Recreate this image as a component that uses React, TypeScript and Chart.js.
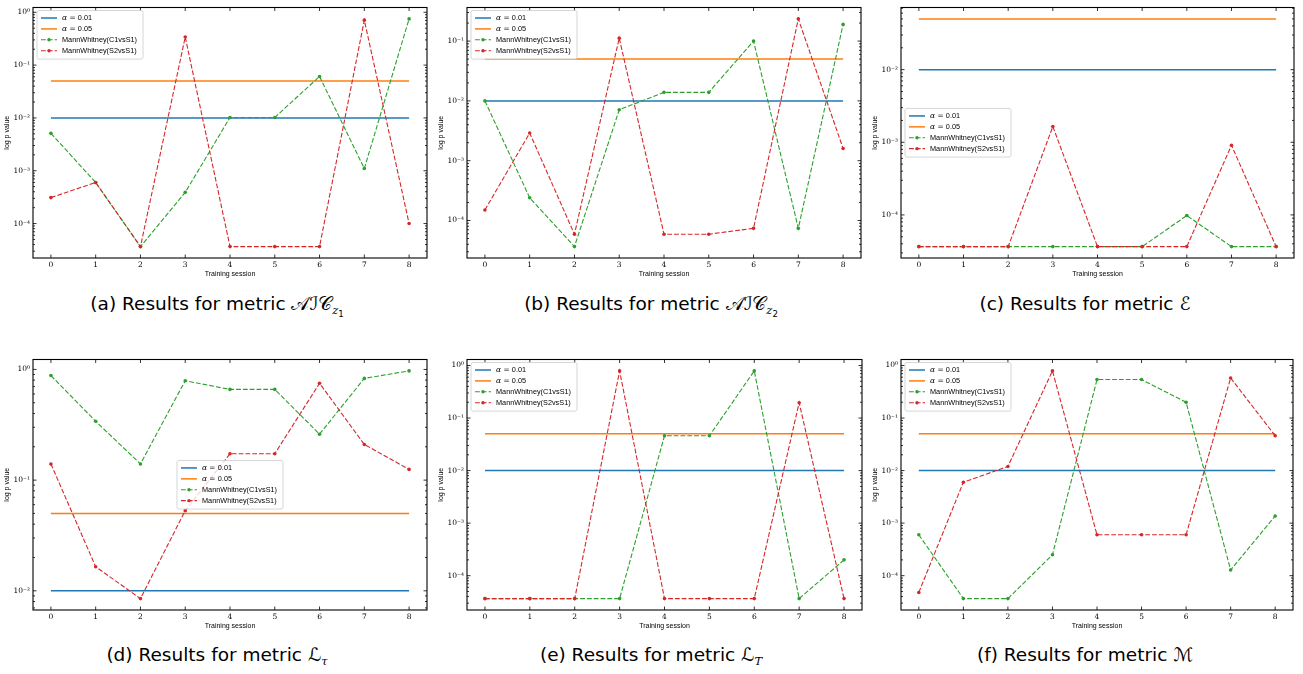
import React, { useEffect, useRef } from "react";
import { Chart, registerables } from "chart.js";

Chart.register(...registerables);

// ---------------- data ----------------
const sessions = [0, 1, 2, 3, 4, 5, 6, 7, 8];
const alphaStrict = 0.01;
const alphaLoose = 0.05;
const legendLabels = ["α = 0.01", "α = 0.05", "MannWhitney(C1vsS1)", "MannWhitney(S2vsS1)"];

const aicZ1C1 = [5.1e-3, 6.0e-4, 3.66e-5, 3.9e-4, 1.02e-2, 1.02e-2, 6.1e-2, 1.1e-3, 0.75];
const aicZ1S2 = [3.1e-4, 6.0e-4, 3.66e-5, 0.34, 3.66e-5, 3.66e-5, 3.66e-5, 0.71, 1.0e-4];
const aicZ2C1 = [1.0e-2, 2.4e-4, 3.66e-5, 7.1e-3, 1.39e-2, 1.39e-2, 0.1, 7.4e-5, 0.19];
const aicZ2S2 = [1.5e-4, 2.9e-3, 5.9e-5, 0.112, 5.9e-5, 5.9e-5, 7.4e-5, 0.235, 1.6e-3];
const energyC1 = [3.66e-5, 3.66e-5, 3.66e-5, 3.66e-5, 3.66e-5, 3.66e-5, 9.8e-5, 3.66e-5, 3.66e-5];
const energyS2 = [3.66e-5, 3.66e-5, 3.66e-5, 1.65e-3, 3.66e-5, 3.66e-5, 3.66e-5, 9.1e-4, 3.66e-5];
const lTauC1 = [0.88, 0.34, 0.14, 0.79, 0.66, 0.66, 0.26, 0.83, 0.97];
const lTauS2 = [0.14, 0.0165, 0.0085, 0.053, 0.173, 0.173, 0.75, 0.21, 0.125];
const lTC1 = [3.66e-5, 3.66e-5, 3.66e-5, 3.66e-5, 0.046, 0.046, 0.79, 3.66e-5, 2.0e-4];
const lTS2 = [3.66e-5, 3.66e-5, 3.66e-5, 0.79, 3.66e-5, 3.66e-5, 3.66e-5, 0.196, 3.66e-5];
const mC1 = [6.0e-4, 3.66e-5, 3.66e-5, 2.5e-4, 0.54, 0.54, 0.2, 1.28e-4, 1.37e-3];
const mS2 = [4.8e-5, 6.0e-3, 0.012, 0.79, 6.0e-4, 6.0e-4, 6.0e-4, 0.58, 0.046];

// ---------------- styling ----------------
const BLUE = "#1f77b4";
const ORANGE = "#ff7f0e";
const GREEN = "#2ca02c";
const RED = "#d62728";
const SANS = "'Liberation Sans', Arial, sans-serif";
const SERIF = "'DejaVu Serif', serif";
const DASH = [4.8, 2.0];

type LegendLoc = "upper left" | "center left" | "center";

type PanelDef = {
  c1: number[];
  s2: number[];
  loc: LegendLoc;
  left: number;
  top: number;
  width: number;
  padRight: number;
};

const SUP: Record<string, string> = {
  "-": "⁻", "0": "⁰", "1": "¹", "2": "²", "3": "³", "4": "⁴",
  "5": "⁵", "6": "⁶", "7": "⁷", "8": "⁸", "9": "⁹",
};
const sup = (n: number) => String(n).split("").map((c) => SUP[c] || c).join("");

function logRange(vals: number[]): [number, number] {
  const ls = vals.map((v) => Math.log10(v));
  const lo = Math.min(...ls);
  const hi = Math.max(...ls);
  const m = (hi - lo) * 0.05;
  return [Math.pow(10, lo - m), Math.pow(10, hi + m)];
}

function drawLegend(chart: any, loc: LegendLoc) {
  const { ctx, chartArea: a } = chart;
  const colors = [BLUE, ORANGE, GREEN, RED];
  const rowH = 10.9;
  const padX = 4;
  const handleLen = 16;
  const textX = padX + handleLen + 5;
  ctx.save();
  let maxW = 0;
  ctx.font = `italic 7.5px ${SERIF}`;
  const wAlpha = ctx.measureText("α").width;
  ctx.font = `7.3px ${SERIF}`;
  const wEq = ctx.measureText(" = ").width;
  legendLabels.forEach((lab, i) => {
    ctx.font = `7.3px ${SANS}`;
    const w = i < 2 ? wAlpha + wEq + ctx.measureText(lab.slice(4)).width : ctx.measureText(lab).width;
    maxW = Math.max(maxW, w);
  });
  const boxW = textX + maxW + 6;
  const boxH = rowH * 4 + 5;
  let bx = a.left + 4;
  let by = a.top + 3;
  if (loc === "center left") {
    by = (a.top + a.bottom) / 2 - boxH / 2;
  } else if (loc === "center") {
    bx = (a.left + a.right) / 2 - boxW / 2;
    by = (a.top + a.bottom) / 2 - boxH / 2;
  }
  ctx.beginPath();
  const r = 2;
  ctx.moveTo(bx + r, by);
  ctx.lineTo(bx + boxW - r, by);
  ctx.quadraticCurveTo(bx + boxW, by, bx + boxW, by + r);
  ctx.lineTo(bx + boxW, by + boxH - r);
  ctx.quadraticCurveTo(bx + boxW, by + boxH, bx + boxW - r, by + boxH);
  ctx.lineTo(bx + r, by + boxH);
  ctx.quadraticCurveTo(bx, by + boxH, bx, by + boxH - r);
  ctx.lineTo(bx, by + r);
  ctx.quadraticCurveTo(bx, by, bx + r, by);
  ctx.closePath();
  ctx.fillStyle = "rgba(255,255,255,0.8)";
  ctx.fill();
  ctx.strokeStyle = "#cccccc";
  ctx.lineWidth = 0.8;
  ctx.stroke();

  legendLabels.forEach((lab, i) => {
    const cy = by + 7.5 + i * rowH;
    const hx = bx + padX;
    ctx.strokeStyle = colors[i];
    if (i < 2) {
      ctx.setLineDash([]);
      ctx.lineWidth = 1.5;
    } else {
      ctx.setLineDash(DASH);
      ctx.lineWidth = 1.1;
    }
    ctx.beginPath();
    ctx.moveTo(hx, cy);
    ctx.lineTo(hx + handleLen, cy);
    ctx.stroke();
    ctx.setLineDash([]);
    if (i >= 2) {
      ctx.fillStyle = colors[i];
      ctx.beginPath();
      ctx.arc(hx + handleLen / 2, cy, 1.7, 0, Math.PI * 2);
      ctx.fill();
    }
    ctx.fillStyle = "#000";
    ctx.textBaseline = "middle";
    ctx.textAlign = "left";
    const tx = bx + textX;
    if (i < 2) {
      ctx.font = `italic 7.5px ${SERIF}`;
      ctx.fillText("α", tx, cy);
      ctx.font = `7.3px ${SERIF}`;
      ctx.fillText(" = ", tx + wAlpha, cy);
      ctx.font = `7.3px ${SANS}`;
      ctx.fillText(lab.slice(4), tx + wAlpha + wEq, cy);
    } else {
      ctx.font = `7.3px ${SANS}`;
      ctx.fillText(lab, tx, cy);
    }
  });
  ctx.restore();
}

const mplPlugin = {
  id: "mplStyle",
  afterDatasetsDraw(chart: any, _args: any, opts: any) {
    const { ctx, chartArea: a, scales } = chart;
    const xs = scales.x;
    const ys = scales.y;
    ctx.save();
    ctx.strokeStyle = "#000";
    ctx.lineWidth = 0.8;
    ctx.beginPath();
    sessions.forEach((s) => {
      const px = xs.getPixelForValue(s);
      ctx.moveTo(px, a.bottom);
      ctx.lineTo(px, a.bottom - 3.5);
      ctx.moveTo(px, a.top);
      ctx.lineTo(px, a.top + 3.5);
    });
    const lo = Math.floor(Math.log10(ys.min));
    const hi = Math.ceil(Math.log10(ys.max));
    for (let k = lo; k <= hi; k++) {
      for (let m = 1; m <= 9; m++) {
        const v = m * Math.pow(10, k);
        if (v < ys.min || v > ys.max) continue;
        const py = ys.getPixelForValue(v);
        const len = m === 1 ? 3.5 : 2;
        ctx.moveTo(a.left, py);
        ctx.lineTo(a.left + len, py);
        ctx.moveTo(a.right, py);
        ctx.lineTo(a.right - len, py);
      }
    }
    ctx.stroke();
    ctx.lineWidth = 1.1;
    ctx.strokeRect(a.left, a.top, a.right - a.left, a.bottom - a.top);
    ctx.restore();
    drawLegend(chart, opts.loc);
  },
};

function Panel({ def }: { def: PanelDef }) {
  const ref = useRef<HTMLCanvasElement | null>(null);
  useEffect(() => {
    if (!ref.current) return;
    const [ymin, ymax] = logRange([...def.c1, ...def.s2, alphaStrict, alphaLoose]);
    const span = sessions[sessions.length - 1] - sessions[0];
    const xmin = sessions[0] - span * 0.05;
    const xmax = sessions[sessions.length - 1] + span * 0.05;
    const decades: number[] = [];
    for (let k = Math.ceil(Math.log10(ymin)); k <= Math.floor(Math.log10(ymax)); k++) decades.push(Math.pow(10, k));
    const pts = (vals: number[]) => sessions.map((s, i) => ({ x: s, y: vals[i] }));
    const chart = new Chart(ref.current, {
      type: "line",
      data: {
        datasets: [
          {
            label: legendLabels[0],
            data: pts(sessions.map(() => alphaStrict)),
            borderColor: BLUE,
            borderWidth: 1.5,
            pointRadius: 0,
            order: 3,
          },
          {
            label: legendLabels[1],
            data: pts(sessions.map(() => alphaLoose)),
            borderColor: ORANGE,
            borderWidth: 1.5,
            pointRadius: 0,
            order: 2,
          },
          {
            label: legendLabels[2],
            data: pts(def.c1),
            borderColor: GREEN,
            backgroundColor: GREEN,
            borderWidth: 1.1,
            borderDash: DASH,
            pointRadius: 1.8,
            pointBorderWidth: 0,
            pointBackgroundColor: GREEN,
            order: 1,
          },
          {
            label: legendLabels[3],
            data: pts(def.s2),
            borderColor: RED,
            backgroundColor: RED,
            borderWidth: 1.1,
            borderDash: DASH,
            pointRadius: 1.8,
            pointBorderWidth: 0,
            pointBackgroundColor: RED,
            order: 0,
          },
        ],
      },
      options: {
        animation: false,
        responsive: true,
        maintainAspectRatio: false,
        layout: { padding: { top: 3, right: def.padRight, left: 0, bottom: 0 } },
        plugins: {
          legend: { display: false },
          tooltip: { enabled: false },
          mplStyle: { loc: def.loc },
        } as any,
        scales: {
          x: {
            type: "linear",
            min: xmin,
            max: xmax,
            afterBuildTicks: (scale: any) => {
              scale.ticks = sessions.map((v) => ({ value: v }));
            },
            afterFit: (scale: any) => {
              scale.height = 24;
            },
            ticks: {
              autoSkip: false,
              maxRotation: 0,
              padding: 3,
              color: "#000",
              font: { family: SERIF, size: 7.5 },
              callback: (v: any) => String(v),
            },
            grid: { display: false, drawTicks: false },
            border: { display: false },
            title: {
              display: true,
              text: "Training session",
              color: "#000",
              font: { family: SANS, size: 7 },
              padding: { top: 0, bottom: 4 },
            },
          },
          y: {
            type: "logarithmic",
            min: ymin,
            max: ymax,
            afterBuildTicks: (scale: any) => {
              scale.ticks = decades.map((v) => ({ value: v }));
            },
            afterFit: (scale: any) => {
              scale.width = 33;
            },
            ticks: {
              autoSkip: false,
              padding: 3,
              color: "#000",
              font: { family: SERIF, size: 7.5 },
              callback: (v: any) => "10" + sup(Math.round(Math.log10(Number(v)))),
            },
            grid: { display: false, drawTicks: false },
            border: { display: false },
            title: {
              display: true,
              text: "log p value",
              color: "#000",
              font: { family: SANS, size: 7 },
              padding: { top: 3, bottom: 0 },
            },
          },
        },
      },
      plugins: [mplPlugin],
    } as any);
    return () => chart.destroy();
  }, [def]);
  return (
    <div style={{ position: "absolute", left: def.left, top: def.top, width: def.width, height: 282 }}>
      <canvas ref={ref} />
    </div>
  );
}

const panels: PanelDef[] = [
  { c1: aicZ1C1, s2: aicZ1S2, loc: "upper left", left: 0, top: 0, width: 434, padRight: 7 },
  { c1: aicZ2C1, s2: aicZ2S2, loc: "upper left", left: 434, top: 0, width: 434, padRight: 7 },
  { c1: energyC1, s2: energyS2, loc: "center left", left: 868, top: 0, width: 435, padRight: 9 },
  { c1: lTauC1, s2: lTauS2, loc: "center", left: 0, top: 352, width: 434, padRight: 7 },
  { c1: lTC1, s2: lTS2, loc: "upper left", left: 434, top: 352, width: 434, padRight: 6 },
  { c1: mC1, s2: mS2, loc: "upper left", left: 868, top: 352, width: 435, padRight: 10 },
];

const capStyle = (cx: number, cy: number): React.CSSProperties => ({
  position: "absolute",
  left: cx - 217,
  width: 434,
  top: cy - 14,
  height: 28,
  lineHeight: "28px",
  textAlign: "center",
  fontFamily: "'DejaVu Sans', sans-serif",
  fontSize: 18.5,
  color: "#000",
  whiteSpace: "nowrap",
});

const mathStyle: React.CSSProperties = { fontFamily: "'DejaVu Sans', 'DejaVu Serif', serif" };
const subStyle: React.CSSProperties = { fontSize: "0.62em", verticalAlign: "-0.35em", lineHeight: 0 };
const subSubStyle: React.CSSProperties = { fontSize: "0.75em", verticalAlign: "-0.3em", lineHeight: 0, fontStyle: "normal" };

export default function App() {
  return (
    <div style={{ position: "fixed", left: 0, top: 0, width: 1303, height: 674, background: "#fff", overflow: "hidden" }}>
      {panels.map((p, i) => (
        <Panel key={i} def={p} />
      ))}
      <div style={capStyle(217, 304)}>
        (a) Results for metric <span style={mathStyle}>𝒜ℐ𝒞</span>
        <span style={subStyle}>
          <i style={{ fontFamily: SERIF }}>z</i>
          <span style={subSubStyle}>1</span>
        </span>
      </div>
      <div style={capStyle(651, 304)}>
        (b) Results for metric <span style={mathStyle}>𝒜ℐ𝒞</span>
        <span style={subStyle}>
          <i style={{ fontFamily: SERIF }}>z</i>
          <span style={subSubStyle}>2</span>
        </span>
      </div>
      <div style={capStyle(1085, 304)}>
        (c) Results for metric <span style={mathStyle}>ℰ</span>
      </div>
      <div style={capStyle(217, 655)}>
        (d) Results for metric <span style={mathStyle}>ℒ</span>
        <span style={subStyle}>
          <i style={{ fontFamily: SERIF }}>τ</i>
        </span>
      </div>
      <div style={capStyle(651, 655)}>
        (e) Results for metric <span style={mathStyle}>ℒ</span>
        <span style={subStyle}>
          <i style={{ fontFamily: SERIF }}>T</i>
        </span>
      </div>
      <div style={capStyle(1085, 655)}>
        (f) Results for metric <span style={mathStyle}>ℳ</span>
      </div>
    </div>
  );
}
